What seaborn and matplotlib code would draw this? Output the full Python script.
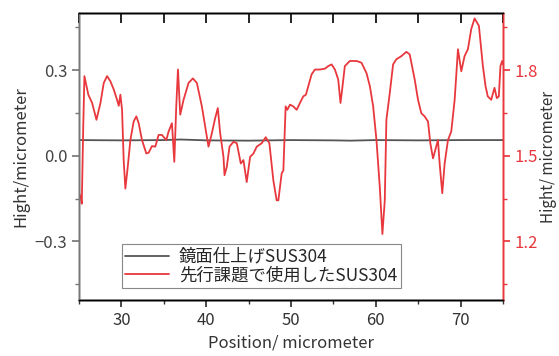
import numpy as np
import pandas as pd
import seaborn as sns
import matplotlib.pyplot as plt
from matplotlib.ticker import MultipleLocator

sns.set_theme(style="ticks")
plt.rcParams['font.family'] = ['Noto Sans CJK JP', 'DejaVu Sans']

# mirror-finished sample (left axis)
pos_gray = [25, 30, 35, 37, 40, 45, 50, 55, 57, 60, 65, 70, 75]
height_gray = [0.055, 0.054, 0.055, 0.057, 0.054, 0.053, 0.055, 0.054, 0.053, 0.055, 0.054, 0.055, 0.055]

# sample from previous study (right axis)
pos_red = [25.0, 25.2, 25.33, 25.5, 25.64, 26.1, 26.55, 27.06, 27.53, 27.92, 28.31, 28.7, 29.1,
           29.49, 29.69, 29.88, 30.08, 30.27, 30.47, 30.75, 31.06, 31.45, 31.76, 32.04, 32.43,
           32.94, 33.22, 33.61, 34.0, 34.39, 34.78, 35.29, 35.57, 35.96, 36.24, 36.47, 36.67,
           36.94, 37.33, 37.92, 38.43, 38.9, 39.49, 39.88, 40.27, 40.67, 41.06, 41.37, 41.65,
           42.04, 42.16, 42.43, 42.75, 43.22, 43.61, 44.08, 44.39, 44.78, 45.18, 45.57, 45.96,
           46.55, 47.02, 47.45, 47.92, 48.31, 48.51, 48.9, 49.1, 49.37, 49.57, 49.88, 50.27,
           50.67, 51.06, 51.45, 51.76, 52.04, 52.43, 52.82, 53.41, 54.0, 54.39, 54.79, 55.18,
           55.57, 55.84, 56.08, 56.35, 56.94, 57.73, 58.31, 58.9, 59.3, 59.69, 60.08, 60.47,
           60.78, 61.06, 61.25, 61.65, 62.04, 62.43, 63.02, 63.61, 64.0, 64.59, 64.98, 65.37,
           65.76, 66.16, 66.43, 66.75, 67.06, 67.33, 67.53, 67.84, 68.12, 68.51, 68.9, 69.3,
           69.69, 70.08, 70.47, 70.86, 71.26, 71.65, 72.16, 72.63, 72.94, 73.21, 73.61, 74.0,
           74.27, 74.51, 74.7, 74.9, 75.0]
height_red = [1.37, 1.355, 1.332, 1.6, 1.779, 1.714, 1.685, 1.626, 1.685, 1.755, 1.779, 1.761, 1.732,
              1.696, 1.675, 1.714, 1.661, 1.485, 1.385, 1.461, 1.555, 1.62, 1.638, 1.614, 1.555,
              1.508, 1.511, 1.534, 1.532, 1.573, 1.573, 1.555, 1.585, 1.614, 1.479, 1.673, 1.802,
              1.644, 1.696, 1.755, 1.771, 1.755, 1.673, 1.602, 1.532, 1.579, 1.632, 1.667, 1.579,
              1.496, 1.432, 1.461, 1.532, 1.549, 1.544, 1.473, 1.485, 1.408, 1.496, 1.508, 1.532,
              1.544, 1.565, 1.544, 1.414, 1.344, 1.344, 1.438, 1.449, 1.673, 1.661, 1.679, 1.673,
              1.661, 1.685, 1.708, 1.714, 1.744, 1.785, 1.802, 1.802, 1.805, 1.814, 1.82, 1.802,
              1.767, 1.685, 1.744, 1.814, 1.832, 1.832, 1.826, 1.79, 1.744, 1.673, 1.555, 1.391,
              1.226, 1.344, 1.626, 1.72, 1.82, 1.838, 1.849, 1.864, 1.855, 1.767, 1.696, 1.649,
              1.638, 1.62, 1.544, 1.491, 1.526, 1.555, 1.473, 1.369, 1.473, 1.555, 1.585, 1.696,
              1.873, 1.796, 1.849, 1.873, 1.944, 1.981, 1.955, 1.814, 1.744, 1.708, 1.696, 1.738,
              1.702, 1.708, 1.814, 1.832, 1.82]

labels = ['鏡面仕上げSUS304', '先行課題で使用したSUS304']
red = '#e8383d'
gray = '#555555'

df_gray = pd.DataFrame({'pos': pos_gray, 'h': height_gray})
df_red = pd.DataFrame({'pos': pos_red, 'h': height_red})

fig, ax = plt.subplots(figsize=(5.59, 3.56), dpi=100)
fig.subplots_adjust(left=0.1413, right=0.8998, top=0.9635, bottom=0.1573)
ax2 = ax.twinx()

sns.lineplot(data=df_gray, x='pos', y='h', ax=ax, color=gray, lw=1.3, label=labels[0], legend=False)
sns.lineplot(data=df_red, x='pos', y='h', ax=ax2, color=red, lw=1.3, label=labels[1], legend=False)

ax.set_xlim(25, 75)
ax.set_ylim(-0.505, 0.5)
ax2.set_ylim(0.995, 2.0)

ax.xaxis.set_major_locator(MultipleLocator(10))
ax.xaxis.set_minor_locator(MultipleLocator(5))
ax.yaxis.set_major_locator(MultipleLocator(0.3))
ax.yaxis.set_minor_locator(MultipleLocator(0.15))
ax2.yaxis.set_major_locator(MultipleLocator(0.3))
ax2.yaxis.set_minor_locator(MultipleLocator(0.15))
ax.yaxis.set_major_formatter(lambda v, p: f'{v:.1f}'.replace('-', '\u2212'))

ax.tick_params(axis='x', which='both', direction='out', top=False, colors='#333333', labelsize=12)
ax.tick_params(axis='x', which='major', length=5)
ax.tick_params(axis='x', which='minor', length=3)
ax.tick_params(axis='y', which='both', direction='out', color='#777777', labelcolor='#444444', labelsize=12)
ax.tick_params(axis='y', which='major', length=5)
ax.tick_params(axis='y', which='minor', length=3)
ax2.tick_params(axis='y', which='both', direction='out', colors=red, labelsize=12)
ax2.tick_params(axis='y', which='major', length=5)
ax2.tick_params(axis='y', which='minor', length=3)

ax.set_xlabel('Position/ micrometer', fontsize=12, color='#333333')
ax.set_ylabel('Hight/micrometer', fontsize=12, color='#333333')
ax2.set_ylabel('Hight/ micrometer', fontsize=11, color='#333333', rotation=90, labelpad=1)

h1, l1 = ax.get_legend_handles_labels()
h2, l2 = ax2.get_legend_handles_labels()
leg = ax2.legend(h1 + h2, l1 + l2, loc='lower left', bbox_to_anchor=(0.101, 0.042),
                 borderaxespad=0, fontsize=12.5, frameon=True, fancybox=False,
                 edgecolor='#888888', framealpha=1, handlelength=2.5, labelspacing=0.05,
                 borderpad=0.2, handletextpad=0.6)
leg.get_frame().set_linewidth(0.8)

# top ticks pointing inward on a separate top x axis
ax3 = ax.twiny()
ax3.set_xlim(ax.get_xlim())
ax3.xaxis.set_major_locator(MultipleLocator(5))
ax3.tick_params(axis='x', which='both', top=True, bottom=False, labeltop=False,
                labelbottom=False, direction='in', length=7, width=1.2, color='black')

# spines: gray left, red right, black top/bottom (matched on every layer)
for a in (ax, ax2, ax3):
    a.spines['left'].set_color('#777777')
    a.spines['right'].set_color(red)
    a.spines['top'].set_color('black')
    a.spines['bottom'].set_color('black')
    for s in a.spines.values():
        s.set_linewidth(1.0)

fig.savefig('out.png', dpi=100)
